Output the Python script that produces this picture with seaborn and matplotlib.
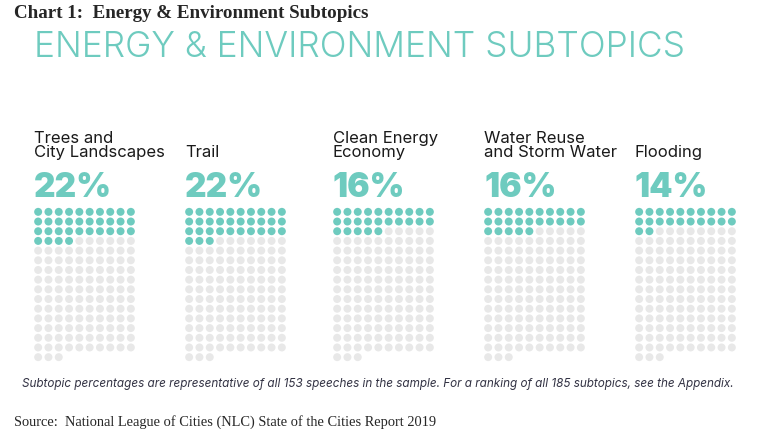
import numpy as np
import pandas as pd
import matplotlib.pyplot as plt
import seaborn as sns

sns.set_style("white")
plt.rcParams['font.family'] = ['Inter', 'DejaVu Sans']

# data: number of speeches (of 153) mentioning each subtopic
subtopics = ["Trees and\nCity Landscapes", "Trail", "Clean Energy\nEconomy",
             "Water Reuse\nand Storm Water", "Flooding"]
pct_labels = ["22%", "22%", "16%", "16%", "14%"]
speech_counts = [34, 33, 25, 25, 22]
total_speeches = 153

teal = "#6ECBBF"
grey = "#E8E8E8"

fig = plt.figure(figsize=(7.6, 4.29), dpi=100)
W, H = 760, 429

def px_box(left, top, width, height):
    return [left / W, 1 - (top + height) / H, width / W, height / H]

idx = np.arange(total_speeches)
lefts = [33, 184, 332, 483, 634]

for i, (name, pct, n) in enumerate(zip(subtopics, pct_labels, speech_counts)):
    df = pd.DataFrame({
        "col": idx % 10,
        "row": idx // 10,
        "hit": np.where(idx < n, "yes", "no"),
    })
    ax = fig.add_axes(px_box(lefts[i], 207, 103, 155))
    sns.scatterplot(data=df, x="col", y="row", hue="hit",
                    palette={"yes": teal, "no": grey}, s=33,
                    linewidth=0, legend=False, ax=ax)
    ax.set_xlim(-0.5, 9.5)
    ax.set_ylim(15.5, -0.5)
    ax.axis("off")

    x0 = (lefts[i] + 1) / W
    fig.text(x0, 1 - 160 / H, name, fontsize=12, color="#1a1a1a",
             va="bottom", ha="left", linespacing=0.95)
    fig.text(x0, 1 - 197 / H, pct, fontsize=24, fontweight=900,
             color=teal, va="baseline", ha="left")

fig.text(14 / W, 1 - 18 / H, "Chart 1:  Energy & Environment Subtopics",
         family="Liberation Serif", fontweight="bold", fontsize=13.7,
         va="baseline", ha="left")
fig.text(34 / W, 1 - 57 / H, "ENERGY & ENVIRONMENT SUBTOPICS",
         fontsize=25.4, fontweight=300, color=teal,
         va="baseline", ha="left")
fig.text(22 / W, 1 - 387 / H,
         "Subtopic percentages are representative of all 153 speeches in the sample. "
         "For a ranking of all 185 subtopics, see the Appendix.",
         fontsize=8.45, style="italic", color="#333344", va="baseline", ha="left")
fig.text(14 / W, 1 - 426 / H,
         "Source:  National League of Cities (NLC) State of the Cities Report 2019",
         family="Liberation Serif", fontsize=10.4, va="baseline", ha="left")

fig.savefig("out.png", dpi=100)
